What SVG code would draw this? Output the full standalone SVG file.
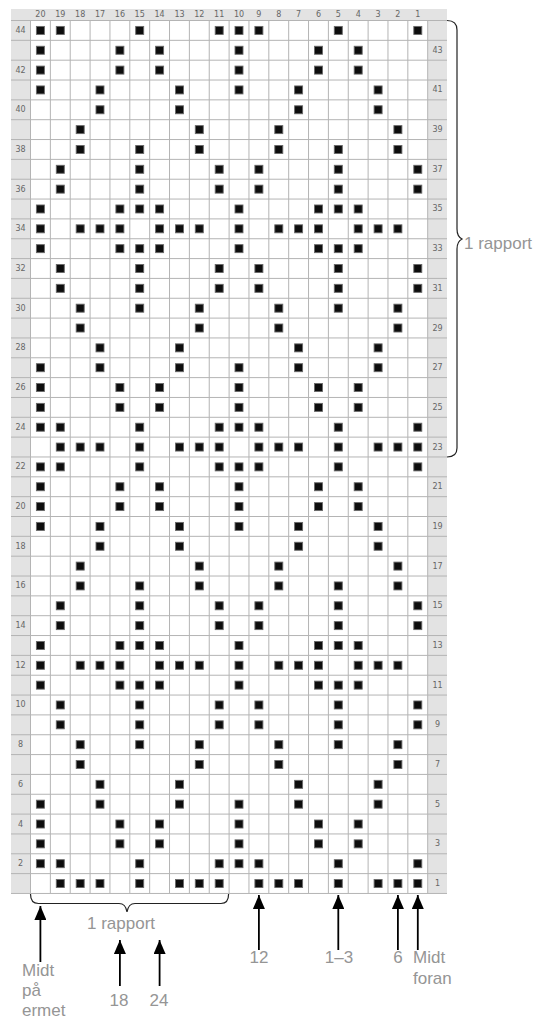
<svg xmlns="http://www.w3.org/2000/svg" xmlns:xlink="http://www.w3.org/1999/xlink" width="548" height="1018" viewBox="0 0 548 1018">
<style>
.num{font-family:"DejaVu Sans",sans-serif;font-size:8px;fill:#666;text-anchor:middle;dominant-baseline:central}
.lbl{font-family:"Liberation Sans",Arial,sans-serif;font-size:17px;fill:#959595}
.mid{text-anchor:middle}
.grid{stroke:#b4b4b4;stroke-width:1;fill:none}
.brace{stroke:#222;stroke-width:1.2;fill:none}
.arr{stroke:#000;stroke-width:1.8;marker-start:url(#ah)}
.k{fill:#0d0d0d;stroke:#6a6a6a;stroke-width:0.9}
</style>
<defs>
<rect id="sq" class="k" x="0" y="-4" width="8" height="8"/>
<marker id="ah" markerUnits="userSpaceOnUse" viewBox="0 0 12 14" refX="6" refY="0" markerWidth="12" markerHeight="14" orient="0"><path d="M6 0L12 14L0 14Z" fill="#000"/></marker>
<g id="pA"><use href="#sq" x="36.4"/><use href="#sq" x="56.3"/><use href="#sq" x="135.7"/><use href="#sq" x="215.2"/><use href="#sq" x="235"/><use href="#sq" x="254.9"/><use href="#sq" x="334.3"/><use href="#sq" x="413.8"/></g>
<g id="pB"><use href="#sq" x="36.4"/><use href="#sq" x="115.9"/><use href="#sq" x="155.6"/><use href="#sq" x="235"/><use href="#sq" x="314.5"/><use href="#sq" x="354.2"/></g>
<g id="pC"><use href="#sq" x="36.4"/><use href="#sq" x="96"/><use href="#sq" x="175.5"/><use href="#sq" x="235"/><use href="#sq" x="294.6"/><use href="#sq" x="374.1"/></g>
<g id="pD"><use href="#sq" x="96"/><use href="#sq" x="175.5"/><use href="#sq" x="294.6"/><use href="#sq" x="374.1"/></g>
<g id="pE"><use href="#sq" x="76.2"/><use href="#sq" x="195.3"/><use href="#sq" x="274.8"/><use href="#sq" x="393.9"/></g>
<g id="pF"><use href="#sq" x="76.2"/><use href="#sq" x="135.7"/><use href="#sq" x="195.3"/><use href="#sq" x="274.8"/><use href="#sq" x="334.3"/><use href="#sq" x="393.9"/></g>
<g id="pG"><use href="#sq" x="56.3"/><use href="#sq" x="135.7"/><use href="#sq" x="215.2"/><use href="#sq" x="254.9"/><use href="#sq" x="334.3"/><use href="#sq" x="413.8"/></g>
<g id="pH"><use href="#sq" x="36.4"/><use href="#sq" x="115.9"/><use href="#sq" x="135.7"/><use href="#sq" x="155.6"/><use href="#sq" x="235"/><use href="#sq" x="314.5"/><use href="#sq" x="334.3"/><use href="#sq" x="354.2"/></g>
<g id="pI"><use href="#sq" x="36.4"/><use href="#sq" x="76.2"/><use href="#sq" x="96"/><use href="#sq" x="115.9"/><use href="#sq" x="155.6"/><use href="#sq" x="175.5"/><use href="#sq" x="195.3"/><use href="#sq" x="235"/><use href="#sq" x="274.8"/><use href="#sq" x="294.6"/><use href="#sq" x="314.5"/><use href="#sq" x="354.2"/><use href="#sq" x="374.1"/><use href="#sq" x="393.9"/></g>
<g id="pJ"><use href="#sq" x="56.3"/><use href="#sq" x="76.2"/><use href="#sq" x="96"/><use href="#sq" x="135.7"/><use href="#sq" x="175.5"/><use href="#sq" x="195.3"/><use href="#sq" x="215.2"/><use href="#sq" x="254.9"/><use href="#sq" x="274.8"/><use href="#sq" x="294.6"/><use href="#sq" x="334.3"/><use href="#sq" x="374.1"/><use href="#sq" x="393.9"/><use href="#sq" x="413.8"/></g>
<g id="rep">
<use href="#pJ" y="883.54"/><use href="#pA" y="863.7"/><use href="#pB" y="843.86"/><use href="#pB" y="824.02"/><use href="#pC" y="804.18"/><use href="#pD" y="784.34"/><use href="#pE" y="764.5"/><use href="#pF" y="744.66"/><use href="#pG" y="724.82"/><use href="#pG" y="704.98"/><use href="#pH" y="685.14"/><use href="#pI" y="665.3"/><use href="#pH" y="645.46"/><use href="#pG" y="625.62"/><use href="#pG" y="605.78"/><use href="#pF" y="585.94"/><use href="#pE" y="566.1"/><use href="#pD" y="546.26"/><use href="#pC" y="526.42"/><use href="#pB" y="506.58"/><use href="#pB" y="486.74"/><use href="#pA" y="466.9"/>
</g>
</defs>

<g id="chart">
<rect x="11" y="9" width="436" height="884.5" fill="#e3e3e3"/>
<rect x="30.5" y="20.5" width="397.2" height="872.96" fill="#fff"/>
<path class="grid" d="M30.5 20.5V893.5M50.36 20.5V893.5M70.22 20.5V893.5M90.08 20.5V893.5M109.94 20.5V893.5M129.8 20.5V893.5M149.66 20.5V893.5M169.52 20.5V893.5M189.38 20.5V893.5M209.24 20.5V893.5M229.1 20.5V893.5M248.96 20.5V893.5M268.82 20.5V893.5M288.68 20.5V893.5M308.54 20.5V893.5M328.4 20.5V893.5M348.26 20.5V893.5M368.12 20.5V893.5M387.98 20.5V893.5M407.84 20.5V893.5M427.7 20.5V893.5"/>
<path class="grid" d="M11 20.5H447M11 40.34H447M11 60.18H447M11 80.02H447M11 99.86H447M11 119.7H447M11 139.54H447M11 159.38H447M11 179.22H447M11 199.06H447M11 218.9H447M11 238.74H447M11 258.58H447M11 278.42H447M11 298.26H447M11 318.1H447M11 337.94H447M11 357.78H447M11 377.62H447M11 397.46H447M11 417.3H447M11 437.14H447M11 456.98H447M11 476.82H447M11 496.66H447M11 516.5H447M11 536.34H447M11 556.18H447M11 576.02H447M11 595.86H447M11 615.7H447M11 635.54H447M11 655.38H447M11 675.22H447M11 695.06H447M11 714.9H447M11 734.74H447M11 754.58H447M11 774.42H447M11 794.26H447M11 814.1H447M11 833.94H447M11 853.78H447M11 873.62H447M11 893.46H447"/>
<g id="stitches">
<use href="#rep"/>
<use href="#rep" y="-436.48"/>
</g>
<g id="colnums">
<text class="num" x="40.4" y="14.8">20</text><text class="num" x="60.3" y="14.8">19</text><text class="num" x="80.2" y="14.8">18</text><text class="num" x="100" y="14.8">17</text><text class="num" x="119.9" y="14.8">16</text><text class="num" x="139.7" y="14.8">15</text><text class="num" x="159.6" y="14.8">14</text><text class="num" x="179.5" y="14.8">13</text><text class="num" x="199.3" y="14.8">12</text><text class="num" x="219.2" y="14.8">11</text><text class="num" x="239" y="14.8">10</text><text class="num" x="258.9" y="14.8">9</text><text class="num" x="278.8" y="14.8">8</text><text class="num" x="298.6" y="14.8">7</text><text class="num" x="318.5" y="14.8">6</text><text class="num" x="338.3" y="14.8">5</text><text class="num" x="358.2" y="14.8">4</text><text class="num" x="378.1" y="14.8">3</text><text class="num" x="397.9" y="14.8">2</text><text class="num" x="417.8" y="14.8">1</text>
</g>
<g id="rownums">
<text class="num" x="20.5" y="30.42">44</text><text class="num" x="20.5" y="70.1">42</text><text class="num" x="20.5" y="109.78">40</text><text class="num" x="20.5" y="149.46">38</text><text class="num" x="20.5" y="189.14">36</text><text class="num" x="20.5" y="228.82">34</text><text class="num" x="20.5" y="268.5">32</text><text class="num" x="20.5" y="308.18">30</text><text class="num" x="20.5" y="347.86">28</text><text class="num" x="20.5" y="387.54">26</text><text class="num" x="20.5" y="427.22">24</text><text class="num" x="20.5" y="466.9">22</text><text class="num" x="20.5" y="506.58">20</text><text class="num" x="20.5" y="546.26">18</text><text class="num" x="20.5" y="585.94">16</text><text class="num" x="20.5" y="625.62">14</text><text class="num" x="20.5" y="665.3">12</text><text class="num" x="20.5" y="704.98">10</text><text class="num" x="20.5" y="744.66">8</text><text class="num" x="20.5" y="784.34">6</text><text class="num" x="20.5" y="824.02">4</text><text class="num" x="20.5" y="863.7">2</text>
<text class="num" x="437.5" y="50.26">43</text><text class="num" x="437.5" y="89.94">41</text><text class="num" x="437.5" y="129.62">39</text><text class="num" x="437.5" y="169.3">37</text><text class="num" x="437.5" y="208.98">35</text><text class="num" x="437.5" y="248.66">33</text><text class="num" x="437.5" y="288.34">31</text><text class="num" x="437.5" y="328.02">29</text><text class="num" x="437.5" y="367.7">27</text><text class="num" x="437.5" y="407.38">25</text><text class="num" x="437.5" y="447.06">23</text><text class="num" x="437.5" y="486.74">21</text><text class="num" x="437.5" y="526.42">19</text><text class="num" x="437.5" y="566.1">17</text><text class="num" x="437.5" y="605.78">15</text><text class="num" x="437.5" y="645.46">13</text><text class="num" x="437.5" y="685.14">11</text><text class="num" x="437.5" y="724.82">9</text><text class="num" x="437.5" y="764.5">7</text><text class="num" x="437.5" y="804.18">5</text><text class="num" x="437.5" y="843.86">3</text><text class="num" x="437.5" y="883.54">1</text>
</g>
</g>

<g id="brace-right">
<path class="brace" d="M447 20.5C453.5 20.5 457 23.5 457 30V229C457 235 459 237.5 462 239C459 240.5 457 243 457 249V448C457 454 453.5 457 447 457"/>
<text class="lbl" x="464" y="249">1 rapport</text>
</g>
<g id="brace-bottom">
<path class="brace" d="M30.5 894C30.5 900 32.5 903.5 38.5 903.5H119C124 903.5 126 906 127 912C128 906 130 903.5 135 903.5H221C226.5 903.5 228.6 900 228.6 894"/>
<text class="lbl" x="87" y="929">1 rapport</text>
</g>

<g id="connectors">
<line class="arr" x1="40.4" y1="906" x2="40.4" y2="962"/>
<line class="arr" x1="119.9" y1="940" x2="119.9" y2="986"/>
<line class="arr" x1="159.6" y1="940" x2="159.6" y2="986"/>
<line class="arr" x1="258.9" y1="895" x2="258.9" y2="950"/>
<line class="arr" x1="338.3" y1="895" x2="338.3" y2="950"/>
<line class="arr" x1="397.9" y1="895" x2="397.9" y2="950"/>
<line class="arr" x1="417.8" y1="895" x2="417.8" y2="950"/>
</g>

<g id="labels">
<text class="lbl" x="22" y="976">Midt</text>
<text class="lbl" x="22" y="996">på</text>
<text class="lbl" x="22" y="1016">ermet</text>
<text class="lbl mid" x="119" y="1006">18</text>
<text class="lbl mid" x="159" y="1006">24</text>
<text class="lbl mid" x="259" y="963">12</text>
<text class="lbl mid" x="339" y="963">1–3</text>
<text class="lbl mid" x="398" y="963">6</text>
<text class="lbl" x="413" y="963">Midt</text>
<text class="lbl" x="413" y="984">foran</text>
</g>
</svg>
